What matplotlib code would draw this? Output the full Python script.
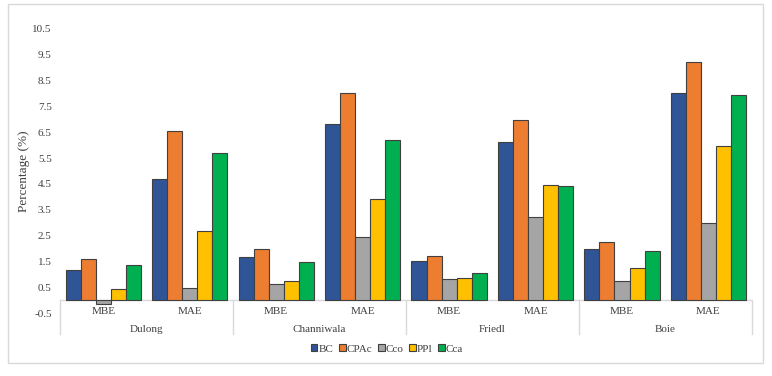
import numpy as np
import matplotlib.pyplot as plt
from matplotlib.lines import Line2D
from matplotlib.patches import Rectangle

plt.rcParams['font.family'] = ['Liberation Serif', 'DejaVu Serif']

MODELS = ["Dulong", "Channiwala", "Friedl", "Boie"]
METRICS = ["MBE", "MAE"]
SERIES = ["BC", "CPAc", "Cco", "PPl", "Cca"]
COLORS = ["#2F5597", "#ED7D31", "#A5A5A5", "#FFC000", "#00B050"]

# values per series, order: Dulong MBE, MAE, Channiwala MBE, MAE, Friedl MBE, MAE, Boie MBE, MAE
BC = [1.16, 4.69, 1.67, 6.82, 1.51, 6.13, 1.97, 8.00]
CPAC = [1.61, 6.56, 1.97, 8.00, 1.71, 6.96, 2.25, 9.21]
CCO = [-0.13, 0.46, 0.62, 2.46, 0.81, 3.21, 0.73, 2.98]
PPL = [0.45, 2.68, 0.73, 3.90, 0.87, 4.45, 1.24, 5.98]
CCA = [1.35, 5.68, 1.48, 6.19, 1.06, 4.41, 1.92, 7.95]

YTICKS = [-0.5, 0.5, 1.5, 2.5, 3.5, 4.5, 5.5, 6.5, 7.5, 8.5, 9.5, 10.5]

fig = plt.figure(figsize=(7.72, 3.76), dpi=100)
ax = fig.add_axes([60 / 772, 1 - 313.2 / 376, (751.7 - 60) / 772, (313.2 - 28.7) / 376])

n_cat = len(MODELS) * len(METRICS)
x = np.arange(n_cat) + 0.5
width = 0.174
data = [BC, CPAC, CCO, PPL, CCA]
for i, (name, vals, col) in enumerate(zip(SERIES, data, COLORS)):
    ax.bar(x + (i - 2) * width, vals, width, color=col, edgecolor="#404040",
           linewidth=0.8, label=name, zorder=3)

ax.set_xlim(0, n_cat)
ax.set_ylim(-0.5, 10.5)
ax.set_yticks(YTICKS)
ax.set_yticklabels([f"{t:g}" for t in YTICKS], fontsize=8, color="#404040")
ax.tick_params(axis="y", length=0, pad=6)
ax.set_xticks([])
for s in ax.spines.values():
    s.set_visible(False)
ax.axhline(0, color="#D9D9D9", linewidth=1, zorder=2)
ax.set_ylabel("Percentage (%)", fontsize=9.5, color="#404040")
ax.yaxis.set_label_coords((30 - 60) / 691.7, 0.5)

# multi-level category labels
tr = ax.get_xaxis_transform()
to_axes = ax.transAxes.inverted()
def fig_y_to_axes(py):
    return to_axes.transform(fig.transFigure.transform((0, 1 - py / 376)))[1]

y_lvl1 = fig_y_to_axes(312)
y_lvl2 = fig_y_to_axes(329)
y_sep_top = fig_y_to_axes(300.3)
y_sep_bot = fig_y_to_axes(334)

for k, xc in enumerate(x):
    ax.text(xc, y_lvl1, METRICS[k % 2], transform=tr, ha="center", va="center",
            fontsize=8, color="#404040")
for g, name in enumerate(MODELS):
    ax.text(2 * g + 1, y_lvl2, name, transform=tr, ha="center", va="center",
            fontsize=8, color="#404040")
for g in range(len(MODELS) + 1):
    ax.add_line(Line2D([2 * g, 2 * g], [y_sep_top, y_sep_bot], transform=tr,
                       color="#D9D9D9", linewidth=1, clip_on=False))

fig.legend(loc="center", bbox_to_anchor=(387 / 772, 1 - 349 / 376), ncol=5,
           frameon=False, fontsize=8, handlelength=0.6, handleheight=0.6,
           handletextpad=0.1, columnspacing=0.5, labelcolor="#404040")

fig.add_artist(Rectangle((7.5 / 772, 1 - 362.5 / 376), (763.3 - 7.5) / 772,
                         (362.5 - 3.5) / 376, transform=fig.transFigure,
                         fill=False, edgecolor="#D9D9D9", linewidth=1))

fig.savefig("out.png", dpi=100)
